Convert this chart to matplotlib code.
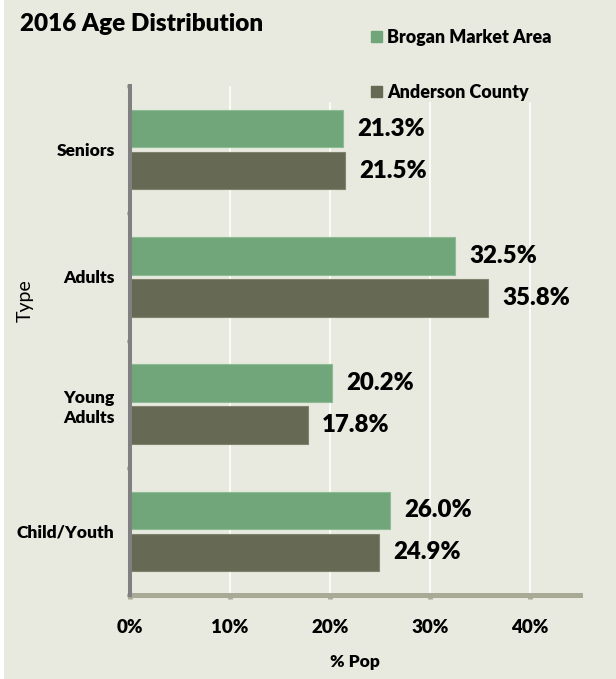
import numpy as np
import matplotlib
matplotlib.use("Agg")
import matplotlib.pyplot as plt
from matplotlib.patches import Rectangle, Patch

plt.rcParams['font.family'] = ['Lato', 'DejaVu Sans']

# data (top to bottom)
categories = ["Seniors", "Adults", "Young\nAdults", "Child/Youth"]
brogan = [21.3, 32.5, 20.2, 26.0]
anderson = [21.5, 35.8, 17.8, 24.9]
series_names = ["Brogan Market Area", "Anderson County"]
xticks = [0, 10, 20, 30, 40]

bg = "#E9EADF"
green = "#70A67A"
dark = "#666A54"
axis_col = "#A9AA96"
spine_col = "#808080"
wt = "heavy"

fig = plt.figure(figsize=(6.16, 6.79), dpi=100)
fig.patch.set_facecolor(bg)
W, H = 616, 679
ax = fig.add_axes([130 / W, 1 - 595 / H, 450 / W, (595 - 86) / H])
ax.set_facecolor(bg)

y = np.arange(len(categories))
off = 0.165
h = 0.295
ax.barh(y - off, brogan, height=h, color=green, edgecolor="#8DBB96", linewidth=0.8,
        label=series_names[0], zorder=2)
ax.barh(y + off, anderson, height=h, color=dark, edgecolor="#80846E", linewidth=0.8,
        label=series_names[1], zorder=2)

for yy, v in zip(y - off, brogan):
    ax.text(v + 1.4, yy, f"{v:.1f}%", va="center", ha="left", fontsize=17.3, fontweight=wt)
for yy, v in zip(y + off, anderson):
    ax.text(v + 1.4, yy, f"{v:.1f}%", va="center", ha="left", fontsize=17.3, fontweight=wt)

ax.set_xlim(0, 45)
ax.set_ylim(len(categories) - 0.5, -0.5)

# x axis
ax.set_xticks(xticks)
ax.set_xticklabels([f"{t}%" for t in xticks], fontsize=13.5, fontweight=wt)
ax.tick_params(axis="x", length=3, width=3.5, color=axis_col, pad=14)
ax.set_xlabel("% Pop", fontsize=12.5, fontweight=wt, labelpad=13)

# y axis
ax.set_yticks(y)
ax.set_yticklabels(categories, fontsize=12.5, fontweight=wt, linespacing=1.3,
                   multialignment="center")
ax.tick_params(axis="y", which="major", length=0, pad=11)
ax.set_yticks(np.arange(-0.5, len(categories)), minor=True)
ax.tick_params(axis="y", which="minor", length=2.5, width=2.5, color=spine_col)
ax.set_ylabel("Type", fontsize=14)
ax.yaxis.set_label_coords(-0.215, 0.578)

# grid
ax.set_axisbelow(True)
ax.grid(axis="x", color="white", linewidth=1.2)
ax.grid(axis="y", visible=False)

for s in ["top", "right"]:
    ax.spines[s].set_visible(False)
ax.spines["bottom"].set_color(axis_col)
ax.spines["bottom"].set_linewidth(3.6)
ax.spines["bottom"].set_zorder(3)
ax.spines["left"].set_color(spine_col)
ax.spines["left"].set_linewidth(2.9)
ax.spines["left"].set_zorder(4)

# legend background covering top of gridlines
ax.add_patch(Rectangle((280 / W, 1 - 102 / H), 1, 1, transform=fig.transFigure,
                       facecolor=bg, edgecolor="none", zorder=1.5, clip_on=False))

handles = [Patch(color=green), Patch(color=dark)]
fig.legend(handles, series_names, loc="upper left", bbox_to_anchor=(371 / W, 1 - 29 / H),
           frameon=False, prop={"weight": wt, "size": 12.9},
           handlelength=0.6, handleheight=0.6, handletextpad=0.3,
           labelspacing=2.1, borderpad=0, borderaxespad=0)

fig.text(20 / W, 1 - 24 / H, "2016 Age Distribution", fontsize=17.5, fontweight=wt,
         ha="left", va="center")

# white strip on the left edge
fig.patches.append(Rectangle((0, 0), 4 / W, 1, transform=fig.transFigure,
                             facecolor="white", edgecolor="none"))

fig.savefig("out.png", dpi=100, facecolor=bg)
